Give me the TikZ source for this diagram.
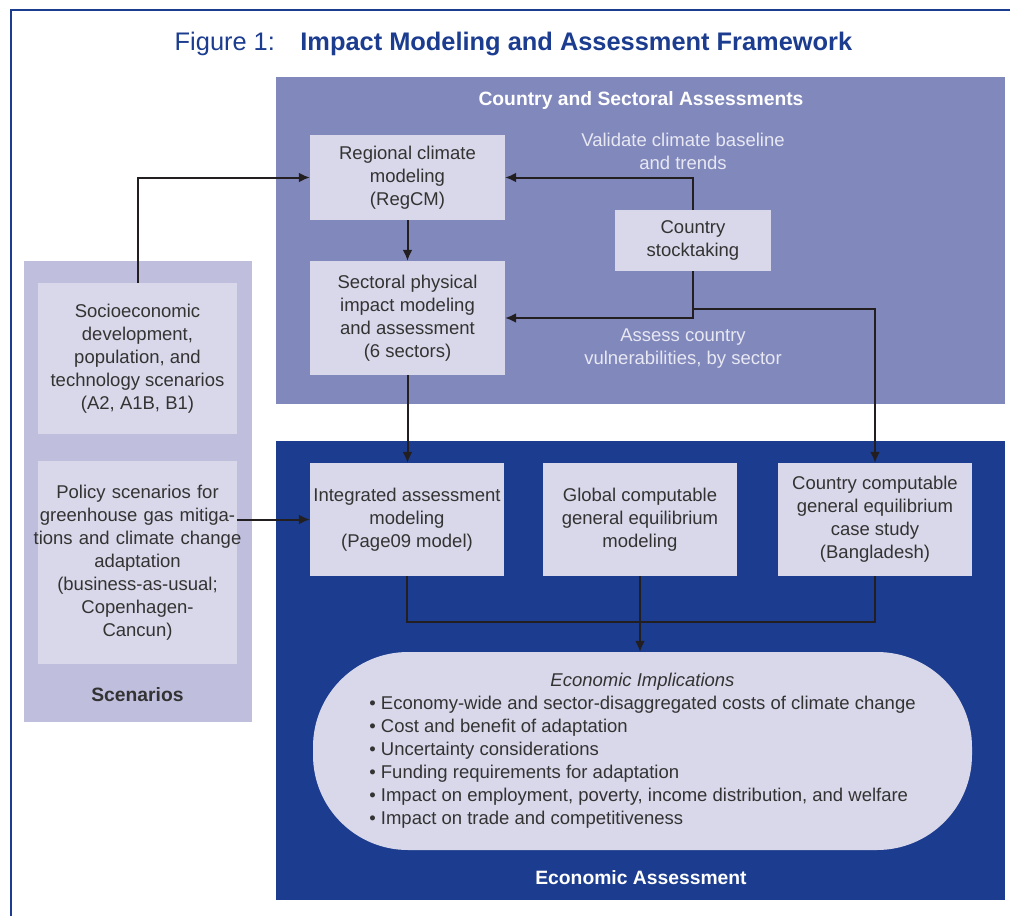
\documentclass[tikz,border=0pt]{standalone}
\usepackage{fontspec}
\setmainfont{Liberation Sans}
\usetikzlibrary{arrows.meta}

\definecolor{azul}{HTML}{1B3C8F}
\definecolor{lilas}{HTML}{8188BC}
\definecolor{lilasclaro}{HTML}{BFBEDD}
\definecolor{caixa}{HTML}{D9D8EA}
\definecolor{texto}{HTML}{333333}
\definecolor{nota}{HTML}{E8E8F3}
\definecolor{linha}{HTML}{231F20}

\tikzset{
    caixa/.style={fill=caixa, text=texto, align=center, inner sep=0pt,
        font=\fontsize{18.5}{23}\selectfont},
    nota/.style={text=nota, align=center, font=\fontsize{18.5}{23}\selectfont},
    titulo/.style={font=\bfseries\fontsize{19.3}{23}\selectfont},
    seta/.style={linha, line width=2pt, -{Latex[length=11pt,width=10pt]}},
    liga/.style={linha, line width=2pt}
}

\begin{document}
\begin{tikzpicture}[x=1pt, y=-1pt]
        \useasboundingbox (0,0) rectangle (1010,916);
        % Moldura e titulo
        \draw[azul, line width=2pt] (11,916) -- (11,10) -- (1010,10);
        \node[text=azul, font=\fontsize{25.4}{30}\selectfont] (fig) at (513.5,44)
            {Figure 1:\quad\textbf{Impact Modeling and Assessment Framework}};

        % Paineis de fundo
        \fill[lilas] (276,77) rectangle (1005,404);
        \fill[lilasclaro] (24,261) rectangle (252,722);
        \fill[azul] (276,441) rectangle (1005,900);
        \node[titulo, text=white] (csa) at (641,101) {Country and Sectoral Assessments};
        \node[titulo, text=texto] (scen) at (137.5,695) {Scenarios};
        \node[titulo, text=white] (ea) at (641,878) {Economic Assessment};

        \node[caixa, minimum width=195pt, minimum height=85pt] (reg) at (407.5,177.5)
            {Regional climate\\modeling\\(RegCM)};
        \node[caixa, minimum width=195pt, minimum height=114pt] (sect) at (407.5,318)
            {Sectoral physical\\impact modeling\\and assessment\\(6 sectors)};
        \node[caixa, minimum width=156pt, minimum height=61pt] (stock) at (693,240.5)
            {Country\\stocktaking};
        \node[nota] (valid) at (683,151.5) {Validate climate baseline\\and trends};
        \node[nota] (assess) at (683,349) {Assess country\\vulnerabilities, by sector};

        \node[caixa, minimum width=199pt, minimum height=151pt] (socio) at (137.5,358.5)
            {Socioeconomic\\development,\\population, and\\technology scenarios\\(A2, A1B, B1)};
        \node[caixa, text width=199pt, minimum height=203pt] (policy) at (137.5,562.5)
            {Policy scenarios for\\greenhouse gas mitiga-\\\makebox[\linewidth]{tions and climate change}\\adaptation\\(business-as-usual;\\Copenhagen-\\Cancun)};

        \node[caixa, minimum width=194pt, minimum height=113pt] (iam) at (407,519.5)
            {Integrated assessment\\modeling\\(Page09 model)};
        \node[caixa, minimum width=194pt, minimum height=113pt] (gcge) at (640,519.5)
            {Global computable\\general equilibrium\\modeling};
        \node[caixa, minimum width=194pt, minimum height=113pt] (ccge) at (875,519.5)
            {Country computable\\general equilibrium\\case study\\(Bangladesh)};

        \node[caixa, minimum width=659pt, minimum height=198pt, rounded corners=95pt] (econ) at (642.5,751)
            {\begin{tabular}{@{}l@{}}
                \multicolumn{1}{c}{\itshape Economic Implications}\\
                \textbullet\ Economy-wide and sector-disaggregated costs of climate change\\
                \textbullet\ Cost and benefit of adaptation\\
                \textbullet\ Uncertainty considerations\\
                \textbullet\ Funding requirements for adaptation\\
                \textbullet\ Impact on employment, poverty, income distribution, and welfare\\
                \textbullet\ Impact on trade and competitiveness
            \end{tabular}};

        % Setas
        \coordinate (fork) at (693,309);
        \coordinate (join) at (640,622);
        \draw[seta] (socio.north) |- (reg.west);
        \draw[seta] (stock.north) |- (reg.east);
        \draw[seta] (reg) -- (sect);
        \draw[seta] (stock.south) |- (sect.east);
        \draw[seta] (fork) -| (ccge.north);
        \draw[seta] (sect.south) -- (sect.south |- iam.north);
        \draw[seta] (iam.west -| policy.east) -- (iam.west);
        \draw[liga] (iam.south) |- (join) -| (ccge.south);
        \draw[seta] (gcge.south) -- (gcge.south |- econ.north);
    \end{tikzpicture}
\end{document}
